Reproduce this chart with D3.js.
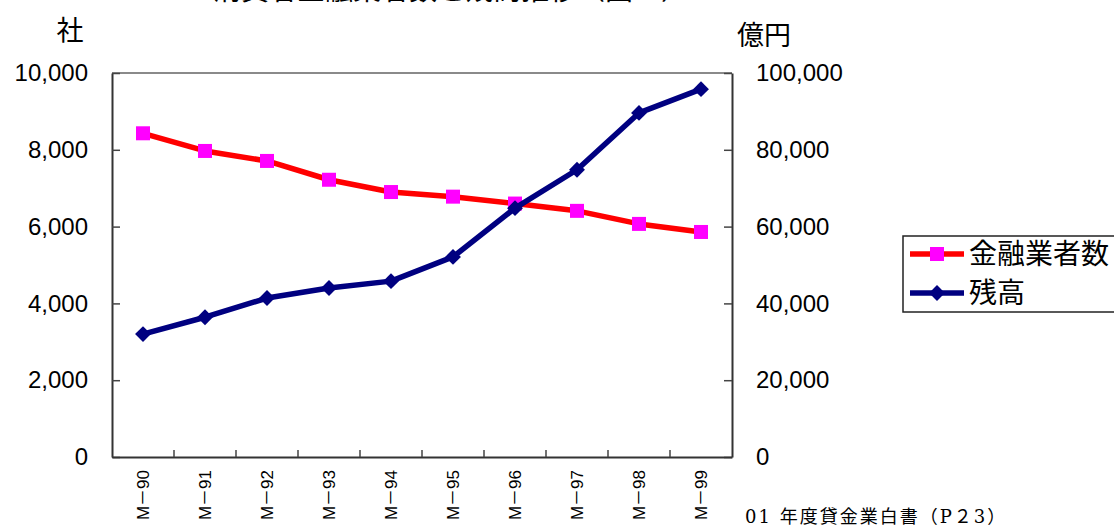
<!DOCTYPE html>
<html>
<head>
<meta charset="utf-8">
<script src="https://cdn.jsdelivr.net/npm/d3@7"></script>
<style>
  body { margin: 0; background: #fff; }
  svg { display: block; }
  text { font-family: "Liberation Sans", Arial, "Noto Sans CJK JP", sans-serif; fill: #000; }
  .cjk { font-family: "Noto Sans CJK JP", sans-serif; }
</style>
</head>
<body>
<div id="chart"></div>
<script>
// chart data
var years = ["M\uFF0D90", "M\uFF0D91", "M\uFF0D92", "M\uFF0D93", "M\uFF0D94",
             "M\uFF0D95", "M\uFF0D96", "M\uFF0D97", "M\uFF0D98", "M\uFF0D99"];
var lenderCount = [8430, 7970, 7710, 7220, 6900, 6780, 6600, 6410, 6070, 5860];   // 社
var balance = [32000, 36400, 41400, 44000, 45800, 52100, 64800, 74800, 89600, 95800]; // 億円
var leftTicks = [0, 2000, 4000, 6000, 8000, 10000];
var rightTicks = [0, 20000, 40000, 60000, 80000, 100000];
var seriesNames = ["金融業者数", "残高"];

var fullWidth = 1114;
var fullHeight = 527;
var plot = { left: 112, right: 732, top: 73, bottom: 457 };

var svg = d3.select("#chart")
    .append("svg")
    .attr("width", fullWidth)
    .attr("height", fullHeight);

var x = d3.scaleBand()
    .domain(years)
    .range([plot.left, plot.right])
    .padding(0);

var yLeft = d3.scaleLinear()
    .domain([0, 10000])
    .range([plot.bottom, plot.top]);

var yRight = d3.scaleLinear()
    .domain([0, 100000])
    .range([plot.bottom, plot.top]);

// title (mostly cut off at the top in the original)
svg.append("text")
    .attr("class", "cjk")
    .attr("x", 451)
    .attr("y", 0)
    .attr("text-anchor", "middle")
    .style("font-size", "28px")
    .text("消費者金融業者数と残高推移（図１）");

// frame
svg.append("line")
    .attr("x1", plot.left).attr("x2", plot.right)
    .attr("y1", plot.top).attr("y2", plot.top)
    .attr("stroke", "#8a8a8a").attr("stroke-width", 2);

var leftAxis = d3.axisLeft(yLeft)
    .tickValues(leftTicks)
    .tickFormat(d3.format(","))
    .tickSizeInner(-8)
    .tickSizeOuter(0)
    .tickPadding(24);

var rightAxis = d3.axisRight(yRight)
    .tickValues(rightTicks)
    .tickFormat(d3.format(","))
    .tickSizeInner(-8)
    .tickSizeOuter(0)
    .tickPadding(24);

var gl = svg.append("g")
    .attr("transform", "translate(" + plot.left + ",0)")
    .call(leftAxis);
var gr = svg.append("g")
    .attr("transform", "translate(" + plot.right + ",0)")
    .call(rightAxis);

[gl, gr].forEach(function(g) {
    g.select(".domain").attr("stroke", "#333").attr("stroke-width", 2);
    g.selectAll(".tick line").attr("stroke", "#444").attr("stroke-width", 1.5);
    g.selectAll("text")
        .style("font-size", "24px")
        .style("font-family", "'Liberation Sans', Arial, sans-serif")
        .attr("fill", "#000");
});

// bottom axis: labels at band centres, ticks at band edges
var xAxis = d3.axisBottom(x).tickSize(0).tickPadding(0);
var gx = svg.append("g")
    .attr("transform", "translate(0," + plot.bottom + ")")
    .call(xAxis);
gx.select(".domain").attr("stroke", "#333").attr("stroke-width", 2);
gx.selectAll("text")
    .attr("transform", "rotate(-90)")
    .attr("x", -13)
    .attr("y", 0)
    .attr("dy", "0.36em")
    .style("text-anchor", "end")
    .style("font-size", "17px")
    .attr("fill", "#000");

svg.append("g").selectAll("line")
    .data(years.slice(1))
    .enter()
    .append("line")
        .attr("x1", function(d) { return x(d); })
        .attr("x2", function(d) { return x(d); })
        .attr("y1", plot.bottom)
        .attr("y2", plot.bottom - 7)
        .attr("stroke", "#444")
        .attr("stroke-width", 1.5);

// axis unit labels
svg.append("text")
    .attr("class", "cjk")
    .attr("x", 70).attr("y", 40)
    .attr("text-anchor", "middle")
    .style("font-size", "27px")
    .text("社");

svg.append("text")
    .attr("class", "cjk")
    .attr("x", 737).attr("y", 45)
    .style("font-size", "27px")
    .text("億円");

// red series (left axis)
var redLine = d3.line()
    .x(function(d, i) { return x(years[i]) + x.bandwidth() / 2; })
    .y(function(d) { return yLeft(d); });

svg.append("path")
    .datum(lenderCount)
    .attr("d", redLine)
    .attr("fill", "none")
    .attr("stroke", "#ff0000")
    .attr("stroke-width", 5.5)
    .attr("stroke-linejoin", "round");

svg.selectAll(".sq")
    .data(lenderCount)
    .enter()
    .append("rect")
        .attr("class", "sq")
        .attr("x", function(d, i) { return x(years[i]) + x.bandwidth() / 2 - 7; })
        .attr("y", function(d) { return yLeft(d) - 7; })
        .attr("width", 14)
        .attr("height", 14)
        .attr("fill", "#ff00ff");

// navy series (right axis)
var blueLine = d3.line()
    .x(function(d, i) { return x(years[i]) + x.bandwidth() / 2; })
    .y(function(d) { return yRight(d); });

svg.append("path")
    .datum(balance)
    .attr("d", blueLine)
    .attr("fill", "none")
    .attr("stroke", "#000080")
    .attr("stroke-width", 5.5)
    .attr("stroke-linejoin", "round");

var diamond = d3.symbol().type(d3.symbolDiamond2).size(160);
svg.selectAll(".dm")
    .data(balance)
    .enter()
    .append("path")
        .attr("class", "dm")
        .attr("d", diamond)
        .attr("transform", function(d, i) {
            return "translate(" + (x(years[i]) + x.bandwidth() / 2) + "," + yRight(d) + ")";
        })
        .attr("fill", "#000080");

// legend
var legend = svg.append("g");
legend.append("rect")
    .attr("x", 903).attr("y", 236)
    .attr("width", 240).attr("height", 76)
    .attr("fill", "#fff")
    .attr("stroke", "#222")
    .attr("stroke-width", 1.5);

var legendColors = ["#ff0000", "#000080"];
var legendY = [254, 293];
seriesNames.forEach(function(name, i) {
    legend.append("line")
        .attr("x1", 910).attr("x2", 964)
        .attr("y1", legendY[i]).attr("y2", legendY[i])
        .attr("stroke", legendColors[i])
        .attr("stroke-width", 5.5);
    if (i === 0) {
        legend.append("rect")
            .attr("x", 930).attr("y", legendY[i] - 7)
            .attr("width", 14).attr("height", 14)
            .attr("fill", "#ff00ff");
    } else {
        legend.append("path")
            .attr("d", diamond)
            .attr("transform", "translate(937," + legendY[i] + ")")
            .attr("fill", "#000080");
    }
    legend.append("text")
        .attr("class", "cjk")
        .attr("x", 969)
        .attr("y", legendY[i])
        .attr("dy", "0.36em")
        .style("font-size", "28px")
        .text(name);
});

// source note
svg.append("text")
    .attr("x", 745)
    .attr("y", 523)
    .style("font-family", "'DejaVu Serif', 'Liberation Serif', 'Noto Sans CJK JP', serif")
    .style("font-size", "18px")
    .style("letter-spacing", "2px")
    .text("01 年度貸金業白書（P２3）");
</script>
</body>
</html>
